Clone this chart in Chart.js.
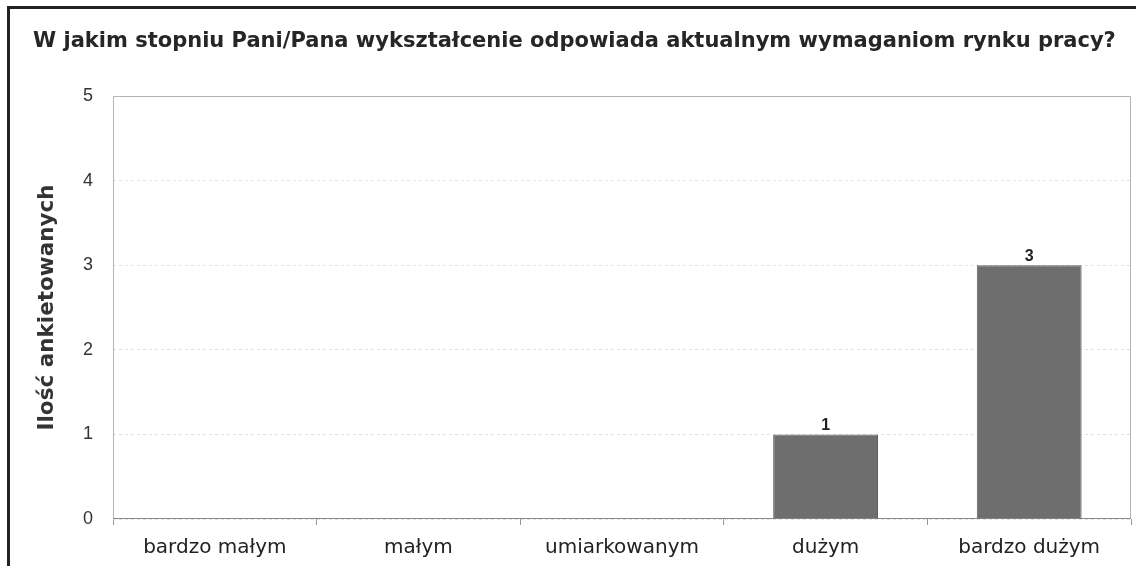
<!DOCTYPE html>
<html><head><meta charset="utf-8">
<script src="https://cdn.jsdelivr.net/npm/chart.js@4.4.0/dist/chart.umd.min.js"></script>
<style>
html,body{margin:0;padding:0;background:#fff;overflow:hidden;}
#wrap{position:relative;width:1136px;height:566px;}
#frame{position:absolute;left:7px;top:6px;width:1300px;height:800px;border-left:3px solid #222;border-top:3px solid #222;box-sizing:border-box;pointer-events:none;}
canvas{position:absolute;left:0;top:0;}
</style></head><body>
<div id="wrap"><canvas id="c" width="1136" height="566"></canvas><div id="frame"></div></div>
<script>
const chartTitle = 'W jakim stopniu Pani/Pana wykształcenie odpowiada aktualnym wymaganiom rynku pracy?';
const yAxisTitle = 'Ilość ankietowanych';
const categories = ['bardzo małym', 'małym', 'umiarkowanym', 'dużym', 'bardzo dużym'];
const counts = [0, 0, 0, 1, 3];
const yTickValues = [0, 1, 2, 3, 4, 5];

const plotFrame = {
  id: 'plotFrame',
  beforeDatasetsDraw(chart) {
    const {ctx, chartArea: a} = chart;
    ctx.save();
    ctx.strokeStyle = '#b4b4b4';
    ctx.lineWidth = 1;
    ctx.beginPath();
    ctx.moveTo(a.left + 0.5, a.bottom);
    ctx.lineTo(a.left + 0.5, a.top + 0.5);
    ctx.lineTo(a.right - 0.5, a.top + 0.5);
    ctx.lineTo(a.right - 0.5, a.bottom);
    ctx.stroke();
    ctx.strokeStyle = '#8a8a8a';
    ctx.beginPath();
    ctx.moveTo(a.left, a.bottom - 0.5);
    ctx.lineTo(a.right, a.bottom - 0.5);
    ctx.stroke();
    ctx.restore();
  }
};

const valueLabels = {
  id: 'valueLabels',
  afterDatasetsDraw(chart) {
    const {ctx} = chart;
    const meta = chart.getDatasetMeta(0);
    const data = chart.data.datasets[0].data;
    ctx.save();
    ctx.font = 'bold 16px "Liberation Sans", Arial, sans-serif';
    ctx.fillStyle = '#222';
    ctx.textAlign = 'center';
    ctx.textBaseline = 'bottom';
    meta.data.forEach((el, i) => {
      if (data[i] > 0) ctx.fillText(String(data[i]), el.x, el.y - 1);
    });
    ctx.restore();
  }
};

new Chart(document.getElementById('c'), {
  type: 'bar',
  data: {
    labels: categories,
    datasets: [{
      data: counts,
      backgroundColor: '#6e6e6e',
      borderColor: '#5f5f5f',
      borderWidth: 1,
      barPercentage: 1,
      categoryPercentage: 0.515
    }]
  },
  options: {
    responsive: false,
    animation: false,
    devicePixelRatio: 1,
    layout: {padding: {left: 33, right: 5, top: 0, bottom: 0}},
    plugins: {
      legend: {display: false},
      tooltip: {enabled: false},
      title: {
        display: true,
        text: chartTitle,
        align: 'start',
        color: '#262626',
        font: {family: '"DejaVu Sans", sans-serif', size: 21, weight: 'bold'},
        padding: {top: 29.4, bottom: 41.4}
      }
    },
    scales: {
      x: {
        grid: {display: true, drawOnChartArea: false, drawTicks: true, tickLength: 6, color: '#9a9a9a', offset: true},
        border: {display: false},
        ticks: {
          color: '#222',
          font: {family: '"DejaVu Sans", sans-serif', size: 20},
          padding: 11,
          maxRotation: 0,
          autoSkip: false
        },
        afterFit(scale) { scale.height = 47; }
      },
      y: {
        min: 0,
        max: 5,
        afterBuildTicks(scale) { scale.ticks = yTickValues.map(v => ({value: v})); },
        grid: {color: '#e2e2e2', drawTicks: false, lineWidth: 1},
        border: {display: false, dash: [3, 3]},
        ticks: {
          color: '#333',
          font: {family: '"Liberation Sans", Arial, sans-serif', size: 18},
          padding: 20
        },
        title: {
          display: true,
          text: yAxisTitle,
          color: '#333',
          font: {family: '"DejaVu Sans", sans-serif', size: 21.5, weight: 'bold'},
          padding: {top: 2, bottom: 0}
        },
        afterFit(scale) { scale.width = 80; }
      }
    }
  },
  plugins: [plotFrame, valueLabels]
});
</script>
</body></html>
